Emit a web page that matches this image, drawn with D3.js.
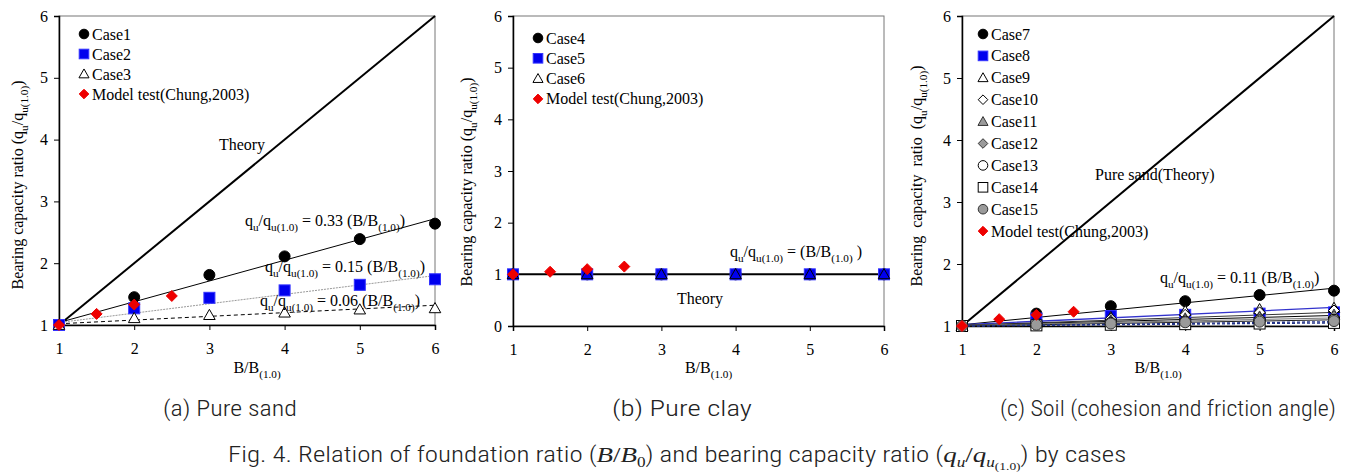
<!DOCTYPE html>
<html><head><meta charset="utf-8">
<script src="https://cdn.jsdelivr.net/npm/d3@7"></script>
<style>
body{margin:0;background:#fff} svg{display:block}
svg text{font-family:"Liberation Serif","Times New Roman",serif;}
svg text.cap{font-family:"Roboto Condensed","DejaVu Sans Condensed",sans-serif;font-weight:300;}
svg text.cap tspan.m{font-family:"Liberation Serif",serif;font-weight:400;}
</style>
</head><body><svg id="c" width="1359" height="472"></svg>
<script>
// ---------- data ----------
const xTicks = [1, 2, 3, 4, 5, 6];
const caseX = [1, 2, 3, 4, 5, 6];
const modelX = [1, 1.5, 2, 2.5];
const theoryX = [1, 6];

// (a) pure sand
const aCase1 = [1.0, 1.45, 1.81, 2.11, 2.39, 2.64];
const aCase2 = [1.0, 1.27, 1.44, 1.56, 1.65, 1.74];
const aCase3 = [1.0, 1.11, 1.16, 1.20, 1.25, 1.27];
const aModel = [1.0, 1.18, 1.33, 1.47];
const aTheory = [1, 6];
const aFit1 = [1.04, 2.72];
const aFit2 = [1.04, 1.80];
const aFit3 = [1.02, 1.32];

// (b) pure clay
const bCase4 = [1, 1, 1, 1, 1, 1];
const bCase5 = [1, 1, 1, 1, 1, 1];
const bCase6 = [1, 1, 1, 1, 1, 1];
const bModel = [1.0, 1.05, 1.10, 1.15];
const bTheory = [1, 1];

// (c) soil
const cCase7 = [1.0, 1.20, 1.32, 1.40, 1.50, 1.57];
const cCase8 = [1.0, 1.12, 1.16, 1.18, 1.20, 1.22];
const cCase9 = [1.0, 1.08, 1.14, 1.24, 1.27, 1.29];
const cCase10 = [1.0, 1.07, 1.12, 1.18, 1.22, 1.25];
const cCase11 = [1.0, 1.05, 1.09, 1.12, 1.15, 1.18];
const cCase12 = [1.0, 1.04, 1.07, 1.10, 1.13, 1.15];
const cCase13 = [1.0, 1.03, 1.05, 1.07, 1.09, 1.10];
const cCase14 = [1.0, 1.01, 1.02, 1.03, 1.04, 1.05];
const cCase15 = [1.0, 1.02, 1.04, 1.06, 1.07, 1.08];
const cModel = [1.0, 1.11, 1.18, 1.23];
const cTheory = [1, 6];
const cFit7 = [1.02, 1.61];
const cFit8 = [1.02, 1.30];
const cFit9 = [1.01, 1.22];
const cFit10 = [1.01, 1.17];
const cFit11 = [1.01, 1.13];
const cFit12 = [1.0, 1.10];
const cFit13 = [1.0, 1.07];
const cFit14 = [1.0, 1.05];

const captions = ["(a) Pure sand", "(b) Pure clay", "(c) Soil (cohesion and friction angle)"];

// ---------- drawing ----------
const svg = d3.select("#c");

function marker(g, type, x, y, fill, stroke, s) {
  s = s || 5.5;
  let el;
  if (type === "circle") el = g.append("circle").attr("cx", x).attr("cy", y).attr("r", s);
  else if (type === "square") el = g.append("rect").attr("x", x - s).attr("y", y - s).attr("width", 2 * s).attr("height", 2 * s);
  else if (type === "triangle") el = g.append("path").attr("d", `M${x},${y - s * 1.05}L${x + s * 1.05},${y + s * 0.8}L${x - s * 1.05},${y + s * 0.8}Z`);
  else if (type === "diamond") el = g.append("path").attr("d", `M${x},${y - s}L${x + s},${y}L${x},${y + s}L${x - s},${y}Z`);
  el.attr("fill", fill).attr("stroke", stroke).attr("stroke-width", 1);
  return el;
}

// rich text: parts = [[text, 'n'|'s'], ...]
function rich(g, x, y, parts, size, anchor) {
  const t = g.append("text").attr("x", x).attr("y", y)
    .style("font-size", size + "px").attr("fill", "#000").attr("text-anchor", anchor || "start");
  let cur = 0;
  parts.forEach(([s, k]) => {
    const target = k === "s" ? 0.3 * size : 0;
    const ts = t.append("tspan").text(s).attr("dy", target - cur);
    if (k === "s") ts.style("font-size", (size * 0.7) + "px");
    cur = target;
  });
  return t;
}

const eqParts = (coef) => [["q", "n"], ["u", "s"], ["/q", "n"], ["u(1.0)", "s"], [" = " + coef + " (B/B", "n"], ["(1.0)", "s"], [")", "n"]];
const yTitleParts = [["Bearing capacity ratio (q", "n"], ["u", "s"], ["/q", "n"], ["u(1.0)", "s"], [")", "n"]];

function panel(cfg) {
  const g = svg.append("g");
  const x = d3.scaleLinear().domain([1, 6]).range([cfg.left, cfg.right]);
  const y = d3.scaleLinear().domain(cfg.yDomain).range([cfg.bottom, cfg.top]);
  g.append("rect").attr("x", cfg.left).attr("y", cfg.top).attr("width", cfg.right - cfg.left)
    .attr("height", cfg.bottom - cfg.top).attr("fill", "none").attr("stroke", "#777").attr("stroke-width", 1);
  const yTicks = d3.range(cfg.yDomain[0], cfg.yDomain[1] + 1);
  const ya = g.append("g").attr("transform", `translate(${cfg.left},0)`)
    .call(d3.axisLeft(y).tickValues(yTicks).tickFormat(d3.format("d")).tickSize(5).tickPadding(6));
  const xa = g.append("g").attr("transform", `translate(0,${cfg.bottom})`)
    .call(d3.axisBottom(x).tickValues(xTicks).tickFormat(d3.format("d")).tickSize(5).tickPadding(13));
  [ya, xa].forEach(a => {
    a.attr("font-family", null).attr("font-size", null);
    a.select(".domain").attr("stroke", "#000").attr("stroke-width", 1.5);
    a.selectAll(".tick line").attr("stroke", "#000");
    a.selectAll("text").style("font-size", "16px").attr("fill", "#000");
  });
  rich(g, (cfg.left + cfg.right) / 2 + 10, 373, [["B/B", "n"], ["(1.0)", "s"]], 16, "middle");
  const yt = g.append("g").attr("transform", `translate(${cfg.yTitleX},${cfg.yTitleY}) rotate(-90)`);
  const ytt = rich(yt, 0, 0, yTitleParts, 16, "middle");
  if (cfg.yTitleSpacing) ytt.style("word-spacing", cfg.yTitleSpacing + "px");
  g.append("line").attr("x1", x(theoryX[0])).attr("y1", y(cfg.theory[0]))
    .attr("x2", x(theoryX[1])).attr("y2", y(cfg.theory[1])).attr("stroke", "#000").attr("stroke-width", 2);
  (cfg.fits || []).forEach(f => {
    g.append("line").attr("x1", x(theoryX[0])).attr("y1", y(f.v[0]))
      .attr("x2", x(theoryX[1])).attr("y2", y(f.v[1])).attr("stroke", f.color)
      .attr("stroke-width", f.w || 1).attr("stroke-dasharray", f.dash || null);
  });
  cfg.series.forEach(s => {
    s.vals.forEach((v, i) => marker(g, s.type, x(s.xs ? s.xs[i] : caseX[i]), y(v), s.fill, s.stroke, s.size));
  });
  cfg.series.forEach((s, i) => {
    const ly = cfg.legY + i * cfg.legStep;
    marker(g, s.type, cfg.legX, ly, s.fill, s.stroke, s.legSize || 4.8);
    g.append("text").attr("x", cfg.legX + 8).attr("y", ly + 5.5).style("font-size", "16px").text(s.name);
  });
  (cfg.notes || []).forEach(n => {
    if (n.parts) rich(g, n.x, n.y, n.parts, 16, n.anchor);
    else g.append("text").attr("x", n.x).attr("y", n.y).style("font-size", "16px")
      .attr("text-anchor", n.anchor || "start").text(n.text);
  });
}

const RED = "#ee0000", BLUE = "#0000ee", GRAY = "#9a9a9a";

panel({
  left: 59, right: 435, top: 16, bottom: 325, yDomain: [1, 6], theory: aTheory,
  yTitleX: 23, yTitleY: 185, legX: 84, legY: 34, legStep: 20,
  fits: [
    { v: aFit1, color: "#000" },
    { v: aFit2, color: "#999", dash: "2,1" },
    { v: aFit3, color: "#000", dash: "4,3" }
  ],
  series: [
    { name: "Case1", type: "circle", fill: "#000", stroke: "#000", vals: aCase1 },
    { name: "Case2", type: "square", fill: BLUE, stroke: "#3333ff", vals: aCase2 },
    { name: "Case3", type: "triangle", fill: "#fff", stroke: "#000", vals: aCase3 },
    { name: "Model test(Chung,2003)", type: "diamond", fill: RED, stroke: RED, vals: aModel, xs: modelX, size: 5.5 }
  ],
  notes: [
    { x: 242, y: 150, text: "Theory", anchor: "middle" },
    { x: 245, y: 226, parts: eqParts("0.33") },
    { x: 265, y: 272, parts: eqParts("0.15") },
    { x: 260, y: 306, parts: eqParts("0.06") }
  ]
});

panel({
  left: 513, right: 884, top: 16, bottom: 326, yDomain: [0, 6], theory: bTheory,
  yTitleX: 472, yTitleY: 182, legX: 538, legY: 38, legStep: 20.3,
  fits: [],
  series: [
    { name: "Case4", type: "circle", fill: "#000", stroke: "#000", vals: bCase4 },
    { name: "Case5", type: "square", fill: BLUE, stroke: "#3333ff", vals: bCase5 },
    { name: "Case6", type: "triangle", fill: "none", stroke: "#000", vals: bCase6 },
    { name: "Model test(Chung,2003)", type: "diamond", fill: RED, stroke: RED, vals: bModel, xs: modelX, size: 5.5 }
  ],
  notes: [
    { x: 700, y: 304, text: "Theory", anchor: "middle" },
    { x: 730, y: 257, parts: [["q", "n"], ["u", "s"], ["/q", "n"], ["u(1.0)", "s"], [" =  (B/B", "n"], ["(1.0)", "s"], [" )", "n"]] }
  ]
});

panel({
  left: 962, right: 1334, top: 16, bottom: 326, yDomain: [1, 6], theory: cTheory,
  yTitleX: 922, yTitleY: 176, yTitleSpacing: 4, legX: 983, legY: 34, legStep: 21.9,
  fits: [
    { v: cFit7, color: "#000" },
    { v: cFit8, color: "#3333cc", w: 1.3 },
    { v: cFit9, color: "#333" },
    { v: cFit10, color: "#000" },
    { v: cFit11, color: "#777" },
    { v: cFit12, color: "#222" },
    { v: cFit13, color: "#223388", dash: "3,2", w: 1.3 },
    { v: cFit14, color: "#223388", dash: "3,2", w: 1.3 }
  ],
  series: [
    { name: "Case7", type: "circle", fill: "#000", stroke: "#000", vals: cCase7 },
    { name: "Case8", type: "square", fill: BLUE, stroke: "#3333ff", vals: cCase8 },
    { name: "Case9", type: "triangle", fill: "#fff", stroke: "#000", vals: cCase9 },
    { name: "Case10", type: "diamond", fill: "#fff", stroke: "#000", vals: cCase10 },
    { name: "Case11", type: "triangle", fill: GRAY, stroke: "#333", vals: cCase11 },
    { name: "Case12", type: "diamond", fill: GRAY, stroke: "#333", vals: cCase12 },
    { name: "Case13", type: "circle", fill: "#fff", stroke: "#000", vals: cCase13 },
    { name: "Case14", type: "square", fill: "#fff", stroke: "#000", vals: cCase14 },
    { name: "Case15", type: "circle", fill: GRAY, stroke: "#333", vals: cCase15 },
    { name: "Model test(Chung,2003)", type: "diamond", fill: RED, stroke: RED, vals: cModel, xs: modelX, size: 5.5 }
  ],
  notes: [
    { x: 1095, y: 180, text: "Pure sand(Theory)" },
    { x: 1160, y: 283, parts: eqParts("0.11") }
  ]
});

// captions
function fitText(t, x0, x1) {
  const bb = t.node().getBBox();
  const sx = (x1 - x0) / bb.width;
  t.attr("transform", `translate(${x0},0) scale(${sx},1) translate(${-bb.x},0)`);
}
const capPos = [[163, 297], [612, 752], [1000, 1336]];
captions.forEach((c, i) => {
  const t = svg.append("text").attr("class", "cap").attr("x", 0).attr("y", 416)
    .style("font-size", "22px").attr("fill", "#222").text(c);
  fitText(t, capPos[i][0], capPos[i][1]);
});
const fig = svg.append("text").attr("class", "cap").attr("x", 0).attr("y", 462)
  .style("font-size", "22px").attr("fill", "#222");
const T = (s, cls, extra) => { const ts = fig.append("tspan").text(s); if (cls) ts.attr("class", "m"); if (extra) extra(ts); return ts; };
T("Fig. 4. Relation of foundation ratio (");
T("B", 1, t => t.style("font-style", "italic"));
T("/", 1);
T("B", 1, t => t.style("font-style", "italic"));
T("0", 1, t => t.style("font-size", "14px").attr("dy", 5));
T(") and bearing capacity ratio (", 0, t => t.attr("dy", -5));
T("q", 1, t => t.style("font-style", "italic"));
T("u", 1, t => t.style("font-style", "italic").style("font-size", "14px").attr("dy", 5));
T("/", 1, t => t.attr("dy", -5));
T("q", 1, t => t.style("font-style", "italic"));
T("u", 1, t => t.style("font-style", "italic").style("font-size", "14px").attr("dy", 5));
T("(1.0)", 1, t => t.style("font-size", "11px").attr("dy", 3));
T(") by cases", 0, t => t.attr("dy", -8));
fitText(fig, 228, 1127);
</script></body></html>
